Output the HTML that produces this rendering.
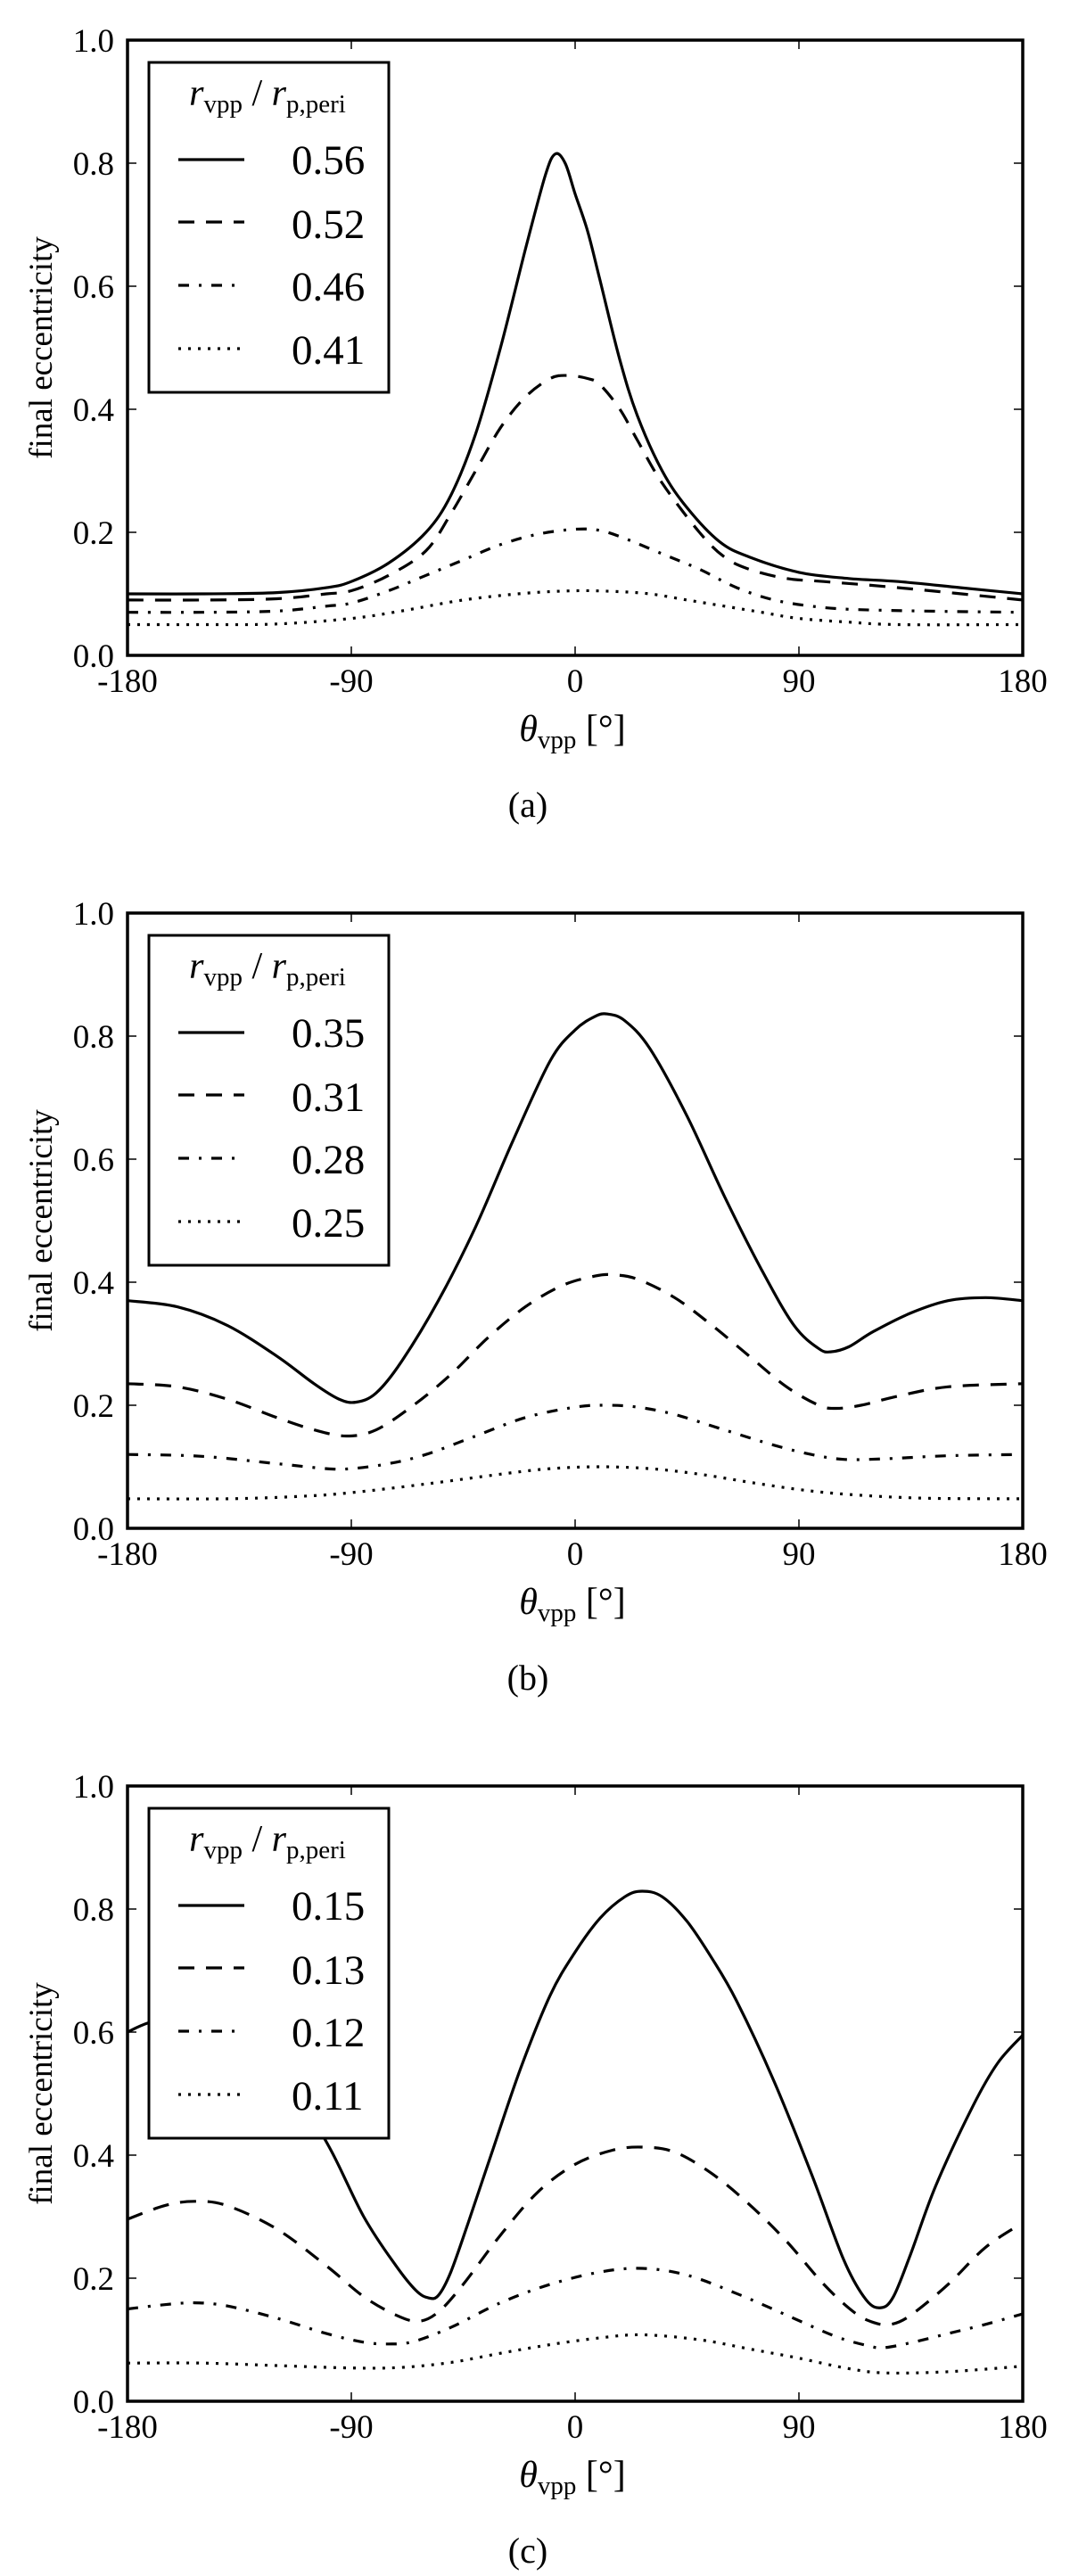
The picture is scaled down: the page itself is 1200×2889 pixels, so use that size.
<!DOCTYPE html>
<html><head><meta charset="utf-8"><style>
html,body{margin:0;padding:0;background:#fff;}
svg{display:block;}
svg text{font-family:"Liberation Serif","DejaVu Serif",serif;}
</style></head><body>
<svg id="fig" width="1200" height="2889" viewBox="0 0 1200 2889" xmlns="http://www.w3.org/2000/svg"></svg>
<script>
const xTicks = [-180, -90, 0, 90, 180];
const yTicks = [0.0, 0.2, 0.4, 0.6, 0.8, 1.0];
const yTickLabels = ["0.0","0.2","0.4","0.6","0.8","1.0"];
const panelLabels = ["(a)","(b)","(c)"];
const legendA = ["0.56","0.52","0.46","0.41"];
const legendB = ["0.35","0.31","0.28","0.25"];
const legendC = ["0.15","0.13","0.12","0.11"];

// Panel (a)
const aSolidX = [-180,-150,-120,-100,-90,-75,-60,-50,-40,-30,-20,-12,-8,-4,0,5,10,18,25,35,45,58,70,90,110,130,155,180];
const aSolidY = [0.10,0.10,0.102,0.11,0.12,0.15,0.20,0.26,0.36,0.50,0.66,0.78,0.815,0.80,0.75,0.69,0.61,0.48,0.39,0.30,0.24,0.185,0.16,0.135,0.125,0.12,0.11,0.10];
const aDashX = [-180,-150,-120,-100,-90,-75,-60,-50,-40,-30,-20,-10,-3,5,10,18,25,35,50,60,70,85,100,130,180];
const aDashY = [0.09,0.09,0.092,0.10,0.105,0.13,0.17,0.23,0.30,0.37,0.42,0.45,0.455,0.45,0.44,0.40,0.35,0.28,0.20,0.16,0.14,0.125,0.12,0.11,0.09];
const aDDX = [-180,-150,-120,-100,-90,-75,-60,-45,-30,-15,0,10,20,35,50,65,80,95,110,140,180];
const aDDY = [0.07,0.07,0.072,0.08,0.085,0.105,0.13,0.155,0.18,0.197,0.205,0.203,0.19,0.165,0.14,0.11,0.09,0.08,0.075,0.072,0.07];
const aDotX = [-180,-150,-120,-90,-70,-45,-20,0,15,30,45,60,75,90,110,130,180];
const aDotY = [0.05,0.05,0.051,0.06,0.072,0.09,0.101,0.105,0.104,0.10,0.09,0.08,0.07,0.06,0.054,0.05,0.05];

// Panel (b)
const bSolidX = [-180,-160,-140,-120,-105,-95,-88,-80,-70,-55,-40,-25,-10,0,8,13,20,30,45,60,75,88,98,103,110,120,135,150,165,180];
const bSolidY = [0.37,0.36,0.33,0.28,0.235,0.21,0.205,0.22,0.27,0.37,0.49,0.63,0.76,0.81,0.832,0.836,0.825,0.78,0.67,0.54,0.42,0.33,0.292,0.287,0.295,0.32,0.35,0.37,0.375,0.37];
const bDashX = [-180,-160,-140,-120,-105,-92,-80,-65,-50,-35,-20,-5,8,15,25,40,55,70,85,98,105,115,130,150,180];
const bDashY = [0.235,0.23,0.21,0.18,0.16,0.15,0.16,0.20,0.25,0.31,0.36,0.395,0.41,0.412,0.405,0.375,0.33,0.28,0.23,0.20,0.195,0.20,0.215,0.23,0.235];
const bDDX = [-180,-150,-120,-100,-90,-75,-60,-40,-20,0,12,25,40,60,80,95,108,125,150,180];
const bDDY = [0.12,0.117,0.105,0.097,0.097,0.105,0.12,0.15,0.18,0.197,0.20,0.197,0.185,0.16,0.135,0.12,0.112,0.113,0.118,0.12];
const bDotX = [-180,-140,-110,-90,-60,-30,-10,10,30,50,70,90,110,140,180];
const bDotY = [0.048,0.048,0.052,0.058,0.072,0.088,0.097,0.10,0.097,0.088,0.075,0.063,0.055,0.049,0.048];

// Panel (c)
const cSolidX = [-180,-171,-150,-125,-102,-85,-72,-64,-59,-55,-50,-43,-33,-22,-10,0,10,20,27,35,45,55,65,80,95,108,117,123,128,135,145,160,170,180];
const cSolidY = [0.60,0.616,0.64,0.56,0.435,0.30,0.22,0.18,0.168,0.172,0.21,0.29,0.41,0.54,0.66,0.73,0.785,0.82,0.829,0.82,0.78,0.72,0.65,0.52,0.37,0.23,0.165,0.152,0.17,0.24,0.35,0.48,0.55,0.595];
const cDashX = [-180,-165,-153,-140,-120,-100,-85,-72,-63,-55,-45,-30,-15,0,15,27,40,55,70,85,100,112,120,127,135,150,165,180];
const cDashY = [0.296,0.318,0.325,0.318,0.28,0.22,0.17,0.14,0.13,0.145,0.19,0.27,0.34,0.385,0.408,0.413,0.405,0.37,0.32,0.26,0.19,0.145,0.128,0.125,0.14,0.19,0.25,0.29];
const cDDX = [-180,-165,-153,-140,-120,-100,-85,-75,-65,-50,-30,-10,10,27,45,65,85,105,118,124,135,150,165,180];
const cDDY = [0.15,0.157,0.16,0.155,0.135,0.11,0.096,0.093,0.097,0.12,0.16,0.19,0.21,0.216,0.205,0.175,0.14,0.105,0.09,0.087,0.095,0.11,0.125,0.142];
const cDotX = [-180,-150,-120,-90,-70,-50,-30,-10,10,27,50,70,90,110,125,150,180];
const cDotY = [0.062,0.062,0.058,0.054,0.055,0.063,0.078,0.092,0.103,0.108,0.10,0.085,0.07,0.053,0.046,0.048,0.057];

const NS = "http://www.w3.org/2000/svg";
const FONT = "Liberation Serif, DejaVu Serif, serif";
const svg = document.getElementById("fig");
const X0 = 143, X1 = 1147, PH = 690;
const panelTops = [45, 1024, 2003];
const dashes = ["none", "18 13", "12 11 3 11", "3 8"];
const seriesNames = ["solid","dashed","dashdot","dotted"];

function mk(tag, attrs, parent) {
  const e = document.createElementNS(NS, tag);
  for (const k in attrs) e.setAttribute(k, attrs[k]);
  if (tag === "text") e.setAttribute("font-family", FONT);
  (parent || svg).appendChild(e);
  return e;
}
function xs(v) { return X0 + (v + 180) / 360 * (X1 - X0); }
function ysFor(top) { return v => top + PH - v * PH; }

function pathFrom(xa, ya, ys) {
  const p = xa.map((x, i) => [xs(x), ys(ya[i])]);
  let d = "M" + p[0][0].toFixed(1) + "," + p[0][1].toFixed(1);
  for (let i = 0; i < p.length - 1; i++) {
    const p0 = p[i - 1] || p[i], p1 = p[i], p2 = p[i + 1], p3 = p[i + 2] || p2;
    const c1 = [p1[0] + (p2[0] - p0[0]) / 6, p1[1] + (p2[1] - p0[1]) / 6];
    const c2 = [p2[0] - (p3[0] - p1[0]) / 6, p2[1] - (p3[1] - p1[1]) / 6];
    d += " C" + c1[0].toFixed(1) + "," + c1[1].toFixed(1) + " " + c2[0].toFixed(1) + "," + c2[1].toFixed(1) + " " + p2[0].toFixed(1) + "," + p2[1].toFixed(1);
  }
  return d;
}

const panels = [
  {series: [[aSolidX,aSolidY],[aDashX,aDashY],[aDDX,aDDY],[aDotX,aDotY]], legend: legendA},
  {series: [[bSolidX,bSolidY],[bDashX,bDashY],[bDDX,bDDY],[bDotX,bDotY]], legend: legendB},
  {series: [[cSolidX,cSolidY],[cDashX,cDashY],[cDDX,cDDY],[cDotX,cDotY]], legend: legendC}
];

panels.forEach((pn, pi) => {
  const top = panelTops[pi], bot = top + PH, ys = ysFor(top);
  const g = mk("g", {});
  
  
  const cid = "clip" + pi;
  const cp = mk("clipPath", {id: cid}, g);
  mk("rect", {x: X0, y: top, width: X1 - X0, height: PH}, cp);

  pn.series.forEach((s, si) => {
    const path = mk("path", {d: pathFrom(s[0], s[1], ys), fill: "none", stroke: "#000", "stroke-width": 3.2, "stroke-dasharray": dashes[si], "clip-path": "url(#" + cid + ")"}, g);
    
    
  });

  xTicks.forEach(t => {
    const x = xs(t);
    mk("line", {x1: x, x2: x, y1: bot, y2: bot - 10, stroke: "#000", "stroke-width": 1.5}, g);
    mk("line", {x1: x, x2: x, y1: top, y2: top + 10, stroke: "#000", "stroke-width": 1.5}, g);
    const tl = mk("text", {x: x, y: bot + 41, "font-size": 37, "text-anchor": "middle"}, g);
    tl.textContent = String(t);
    
    
  });
  yTicks.forEach((t, i) => {
    const y = ys(t);
    mk("line", {x1: X0, x2: X0 + 10, y1: y, y2: y, stroke: "#000", "stroke-width": 1.5}, g);
    mk("line", {x1: X1, x2: X1 - 10, y1: y, y2: y, stroke: "#000", "stroke-width": 1.5}, g);
    const tl = mk("text", {x: 128, y: y + 13, "font-size": 37, "text-anchor": "end"}, g);
    tl.textContent = yTickLabels[i];
    
    
  });

  const lg = mk("g", {}, g);
  
  
  mk("rect", {x: 167, y: top + 25, width: 269, height: 370, fill: "#fff", stroke: "#000", "stroke-width": 3}, lg);
  const lt = mk("text", {x: 300, y: top + 73, "font-size": 42, "text-anchor": "middle"}, lg);
  lt.innerHTML = '<tspan font-style="italic">r</tspan><tspan font-size="29" dy="8">vpp</tspan><tspan dy="-8"> / </tspan><tspan font-style="italic">r</tspan><tspan font-size="29" dy="8">p,peri</tspan>';
  
  
  const lineY = [134, 204, 275, 346], textY = [150, 222, 292, 363];
  pn.legend.forEach((lab, si) => {
    const ln = mk("line", {x1: 200, x2: 274, y1: top + lineY[si], y2: top + lineY[si], stroke: "#000", "stroke-width": 3.2, "stroke-dasharray": dashes[si]}, lg);
    
    
    const tx = mk("text", {x: 327, y: top + textY[si], "font-size": 47}, lg);
    tx.textContent = lab;
    
    
  });

  const fr = mk("rect", {x: X0, y: top, width: X1 - X0, height: PH, fill: "none", stroke: "#000", "stroke-width": 3.5}, g);
  
  

  const yl = mk("text", {x: 0, y: 0, "font-size": 37, "text-anchor": "middle", transform: "translate(58," + (top + PH / 2) + ") rotate(-90)"}, g);
  yl.textContent = "final eccentricity";
  
  

  const xl = mk("text", {x: 642, y: bot + 96, "font-size": 42, "text-anchor": "middle"}, g);
  xl.innerHTML = '<tspan font-style="italic">θ</tspan><tspan font-size="29" dy="8">vpp</tspan><tspan dy="-8"> [°]</tspan>';
  
  

  const cap = mk("text", {x: 592, y: bot + 181, "font-size": 40, "text-anchor": "middle"}, g);
  cap.textContent = panelLabels[pi];
  
  
});
</script>
</body></html>
